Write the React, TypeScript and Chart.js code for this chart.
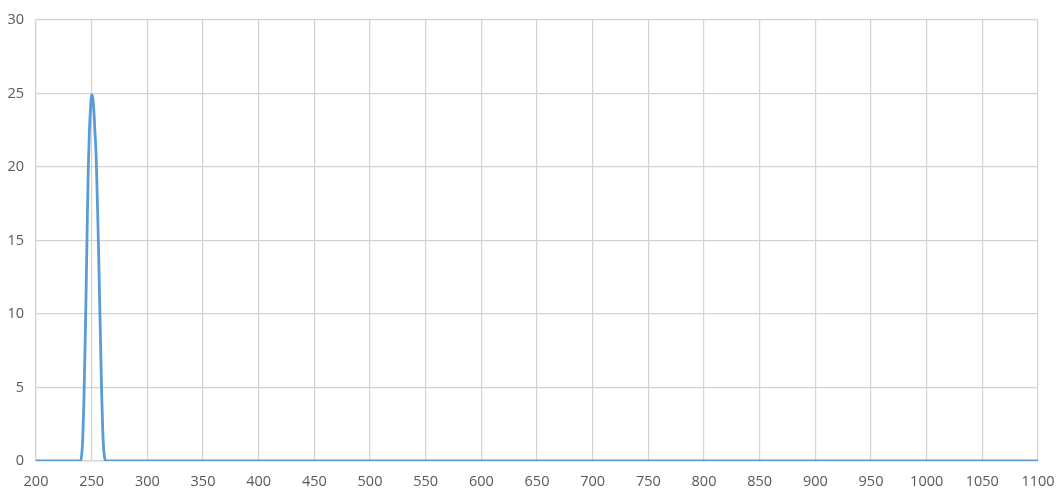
import React, { useEffect, useRef } from 'react';
import Chart from 'chart.js/auto';

// wavelength (nm) and intensity
const wavelengths: number[] = [200, 240, 241, 242, 243, 244, 245, 246, 247, 248, 249, 250, 251, 252, 253, 254, 255, 256, 257, 258, 259, 260, 261, 262, 263, 1100];
const intensity: number[] = [0, 0, 0.4, 1.5, 4, 7.5, 11.5, 16, 20, 22.5, 24, 24.9, 24.7, 23.8, 22.3, 20.8, 18, 15, 11.5, 8, 4.5, 2, 0.6, 0.1, 0, 0];

const xMin = 200;
const xMax = 1100;
const xStep = 50;
const yMin = 0;
const yMax = 30;
const yStep = 5;

const App: React.FC = () => {
  const chartRef = useRef<HTMLCanvasElement>(null);

  useEffect(() => {
    document.body.style.margin = '0';
    if (!chartRef.current) return;
    const font = { family: '"Open Sans", "Noto Sans", sans-serif', size: 14.5 };
    const chart = new Chart(chartRef.current, {
      type: 'line',
      data: {
        datasets: [{
          data: wavelengths.map((w, i) => ({ x: w, y: intensity[i] })),
          borderColor: '#5B9BD5',
          borderWidth: 2.8,
          pointRadius: 0,
          cubicInterpolationMode: 'monotone',
          fill: false,
        }],
      },
      options: {
        animation: false,
        responsive: false,
        layout: { padding: { top: 20, right: 21, left: 0, bottom: 0 } },
        plugins: { legend: { display: false }, tooltip: { enabled: false } },
        scales: {
          x: {
            type: 'linear',
            min: xMin,
            max: xMax,
            afterFit: (scale: any) => {
              scale.height = 34;
              scale.paddingLeft = 0;
              scale.paddingRight = 0;
            },
            ticks: { stepSize: xStep, color: '#595959', font, padding: 12, maxRotation: 0, autoSkip: false, callback: (v: any) => String(v) },
            grid: { color: '#d3d3d3', lineWidth: 1.2, drawTicks: false },
            border: { color: '#d3d3d3', width: 1.2 },
          },
          y: {
            min: yMin,
            max: yMax,
            afterFit: (scale: any) => {
              scale.width = 36;
              scale.paddingTop = 0;
              scale.paddingBottom = 0;
            },
            ticks: { stepSize: yStep, color: '#595959', font, padding: 12, callback: (v: any) => String(v) },
            grid: { color: '#d3d3d3', lineWidth: 1.2, drawTicks: false },
            border: { color: '#d3d3d3', width: 1.2 },
          },
        },
      },
    });
    return () => {
      chart.destroy();
    };
  }, []);

  return (
    <div style={{ width: 1059, height: 495, background: '#fff' }}>
      <canvas ref={chartRef} width={1059} height={495} />
    </div>
  );
};

export default App;
